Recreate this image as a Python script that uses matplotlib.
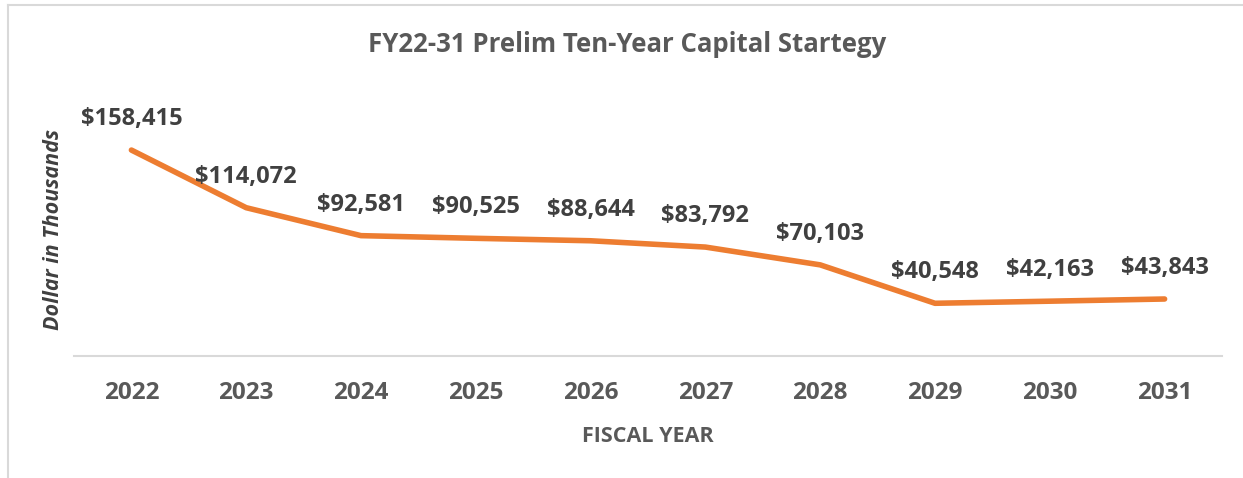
import matplotlib.pyplot as plt
from matplotlib.lines import Line2D

years = ["2022", "2023", "2024", "2025", "2026", "2027", "2028", "2029", "2030", "2031"]
values = [158415, 114072, 92581, 90525, 88644, 83792, 70103, 40548, 42163, 43843]

TXT = "#595959"
DARK = "#404040"
FONT = "Open Sans"
W, H = 1243, 478

fig = plt.figure(figsize=(W / 100, H / 100), dpi=100)
# plot area: x 74..1222 px, y from 122 to 356 px (zero at the axis line)
ax = fig.add_axes([74 / W, (H - 356) / H, 1148 / W, 234 / H])

x = range(len(years))
ax.plot(x, values, color="#ED7D31", linewidth=4, solid_capstyle="round",
        solid_joinstyle="round")
ax.set_xlim(-0.5, len(years) - 0.5)
ax.set_ylim(0, 180000)

for i, v in enumerate(values):
    ax.annotate(f"${v:,}", (i, v), xytext=(0, 18), textcoords="offset points",
                ha="center", va="baseline", fontsize=17, fontweight="bold",
                color=DARK, family=FONT)

ax.set_xticks(list(x))
ax.set_xticklabels(years, fontsize=17.5, fontweight="bold", color=TXT, family=FONT)
ax.tick_params(axis="x", length=0, pad=18)
ax.set_yticks([])
for s in ["top", "right", "left"]:
    ax.spines[s].set_visible(False)
ax.spines["bottom"].set_color("#D9D9D9")
ax.spines["bottom"].set_linewidth(1.5)

fig.text(627 / W, 1 - 52 / H, "FY22-31 Prelim Ten-Year Capital Startegy",
         ha="center", va="baseline", fontsize=18.5, fontweight="bold", color=TXT, family=FONT)
fig.text(648 / W, 1 - 442 / H, "FISCAL YEAR", ha="center", va="baseline",
         fontsize=15.5, fontweight="bold", color=TXT, family=FONT)
fig.text(54 / W, 1 - 230 / H, "Dollar in Thousands", ha="center", va="center",
         rotation=90, fontsize=15.5, fontweight="bold", style="italic", color=DARK, family=FONT)

# chart frame (only top and left edges visible in the crop)
fig.add_artist(Line2D([8 / W, 8 / W], [0, 1 - 5 / H], transform=fig.transFigure,
                      color="#D9D9D9", linewidth=1.5))
fig.add_artist(Line2D([8 / W, 1], [1 - 5 / H, 1 - 5 / H], transform=fig.transFigure,
                      color="#D9D9D9", linewidth=1.5))

fig.savefig("out.png", dpi=100)
